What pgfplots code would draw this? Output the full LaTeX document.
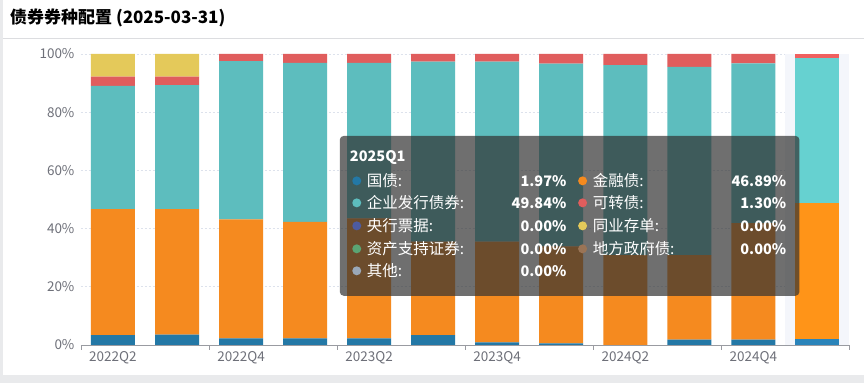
\documentclass[border=0pt]{standalone}
\usepackage{pgfplots}
\pgfplotsset{compat=1.18}
\usepackage{pgfplotstable}
\usepackage{fontspec}
\setmainfont{Noto Sans CJK SC}

\definecolor{cGz}{HTML}{2378A6}
\definecolor{cJr}{HTML}{F58A1F}
\definecolor{cQy}{HTML}{5DBDBE}
\definecolor{cKz}{HTML}{E05D5D}
\definecolor{cTy}{HTML}{E4C95A}
\definecolor{hGz}{HTML}{2A84BA}
\definecolor{hJr}{HTML}{FF9418}
\definecolor{hQy}{HTML}{66D1D0}
\definecolor{hKz}{HTML}{F0605F}
\definecolor{cYh}{HTML}{4D5BA0}
\definecolor{cZc}{HTML}{5BA574}
\definecolor{cDf}{HTML}{9A7456}
\definecolor{cQt}{HTML}{9AA8B8}
\definecolor{bgGrey}{HTML}{E9EAEC}
\definecolor{lineGrey}{HTML}{DCDDE0}
\definecolor{axisGrey}{HTML}{6E7079}
\definecolor{gridGrey}{HTML}{DDE2EC}
\definecolor{hlBg}{HTML}{F4F6FB}
\definecolor{tipBg}{HTML}{323232}

\pgfplotstableread{
x    gz   jr    qy    kz   ty
0.5  3.3  43.3  42.4  3.2  7.8
1.5  3.5  43.1  42.7  2.9  7.8
2.5  2.2  40.9  54.4  2.5  0
3.5  2.2  40.1  54.6  3.1  0
4.5  2.2  41.3  53.4  3.1  0
5.5  3.3  32.2  61.9  2.6  0
6.5  0.8  34.7  61.9  2.6  0
7.5  0.5  33.3  62.9  3.3  0
8.5  0.0  30.8  65.4  3.8  0
9.5  1.8  29.0  64.8  4.4  0
10.5 1.8  40.0  55.0  3.2  0
}\mainData

\pgfplotstableread{
x    gz    jr     qy     kz
11.5 1.97  46.89  49.84  1.30
}\lastData

\begin{document}
\begin{tikzpicture}[x=1pt,y=1pt]
\fill[bgGrey] (0,0) rectangle (865,383);
\fill[white] (3,8) rectangle (865,383);
\draw[lineGrey, line width=1.2pt] (3,344.5) -- (865,344.5);
\node[anchor=base west, inner sep=0pt, font=\fontsize{17}{17}\selectfont\bfseries] at (10,359) {债券券种配置 (2025-03-31)};

\begin{axis}[
  at={(81pt,38pt)}, anchor=south west,
  scale only axis, width=769pt, height=291pt,
  xmin=0, xmax=12, ymin=0, ymax=100,
  axis x line=bottom, axis y line=left,
  y axis line style={draw=none},
  x axis line style={color=axisGrey!70, -},
  ymajorgrids, grid style={gridGrey, dash pattern=on 2pt off 2pt},
  ytick={0,20,...,100},
  yticklabel={\pgfmathprintnumber{\tick}\%},
  ytick style={draw=none},
  yticklabel style={font=\fontsize{13.5}{13.5}\selectfont, text=axisGrey, anchor=east, xshift=-3pt},
  xtick={0.5,2.5,4.5,6.5,8.5,10.5},
  xticklabels={2022Q2,2022Q4,2023Q2,2023Q4,2024Q2,2024Q4},
  xticklabel style={font=\fontsize{13.5}{13.5}\selectfont, text=axisGrey, yshift=-3pt},
  major tick length=0pt,
  extra x ticks={0,2,4,6,8,10,12},
  extra x tick labels={},
  extra x tick style={major tick length=5pt, tick align=outside, tick style={axisGrey!70}},
  /pgf/number format/assume math mode=true,
  ybar stacked, bar width=0.687,
]
\fill[hlBg] (axis cs:11,0) rectangle (axis cs:12,100);
\addplot[fill=cGz, draw=none] table[x=x, y=gz] {\mainData};
\addplot[fill=cJr, draw=none] table[x=x, y=jr] {\mainData};
\addplot[fill=cQy, draw=none] table[x=x, y=qy] {\mainData};
\addplot[fill=cKz, draw=none] table[x=x, y=kz] {\mainData};
\addplot[fill=cTy, draw=none] table[x=x, y=ty] {\mainData};
\end{axis}

\begin{axis}[
  at={(81pt,38pt)}, anchor=south west,
  scale only axis, width=769pt, height=291pt,
  xmin=0, xmax=12, ymin=0, ymax=100,
  hide axis,
  ybar stacked, bar width=0.687,
]
\addplot[fill=hGz, draw=none] table[x=x, y=gz] {\lastData};
\addplot[fill=hJr, draw=none] table[x=x, y=jr] {\lastData};
\addplot[fill=hQy, draw=none] table[x=x, y=qy] {\lastData};
\addplot[fill=hKz, draw=none] table[x=x, y=kz] {\lastData};
\end{axis}

% tooltip
\fill[tipBg, fill opacity=0.7, rounded corners=4pt] (340,87) rectangle (800,247);
\begin{scope}[every node/.style={text=white, inner sep=0pt, font=\fontsize{15.5}{15.5}\selectfont}]
\tikzset{val/.style={anchor=east, font=\fontsize{14.5}{14.5}\selectfont\bfseries}}
\node[anchor=west, font=\fontsize{14.5}{14.5}\selectfont\bfseries] at (350,225) {2025Q1};
% column 1
\fill[cGz] (357,202) circle (4.5);
\node[anchor=west] at (367,202) {国债:};
\node[val] at (567,202) {1.97\%};
\fill[cQy] (357,180) circle (4.5);
\node[anchor=west] at (367,180) {企业发行债券:};
\node[val] at (567,180) {49.84\%};
\fill[cYh] (357,157) circle (4.5);
\node[anchor=west] at (367,157) {央行票据:};
\node[val] at (567,157) {0.00\%};
\fill[cZc] (357,134) circle (4.5);
\node[anchor=west] at (367,134) {资产支持证券:};
\node[val] at (567,134) {0.00\%};
\fill[cQt] (357,112) circle (4.5);
\node[anchor=west] at (367,112) {其他:};
\node[val] at (567,112) {0.00\%};
% column 2
\fill[cJr] (583,202) circle (4.5);
\node[anchor=west] at (593,202) {金融债:};
\node[val] at (787,202) {46.89\%};
\fill[cKz] (583,180) circle (4.5);
\node[anchor=west] at (593,180) {可转债:};
\node[val] at (787,180) {1.30\%};
\fill[cTy] (583,157) circle (4.5);
\node[anchor=west] at (593,157) {同业存单:};
\node[val] at (787,157) {0.00\%};
\fill[cDf] (583,134) circle (4.5);
\node[anchor=west] at (593,134) {地方政府债:};
\node[val] at (787,134) {0.00\%};
\end{scope}
\end{tikzpicture}
\end{document}
